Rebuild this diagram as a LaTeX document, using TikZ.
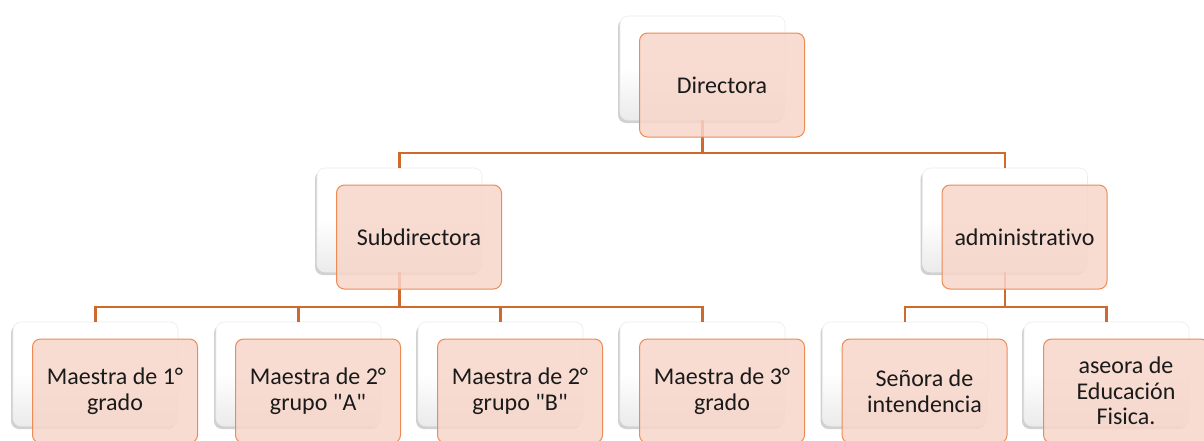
\documentclass[tikz,border=0pt]{standalone}
\usepackage{fontspec}
\setmainfont{Carlito}[Ligatures={TeXOff,NoCommon}]
\usetikzlibrary{shadows}
\definecolor{pinkfill}{RGB}{247,214,202}
\definecolor{pinkedge}{RGB}{236,140,84}
\definecolor{linkcol}{RGB}{208,106,44}
\definecolor{txtcol}{RGB}{26,26,26}
\tikzset{
  backbox/.style={rectangle, rounded corners=8pt, minimum width=165pt, minimum height=104pt,
    inner sep=0pt, draw=gray!15, line width=0.6pt, top color=white, bottom color=gray!16,
    middle color=white, shading angle=0,
    drop shadow={shadow xshift=-2pt, shadow yshift=-3pt, opacity=0.45, fill=gray!80}},
  frontbox/.style={rectangle, rounded corners=8pt, minimum width=165pt, minimum height=104pt,
    inner sep=2pt, draw=pinkedge, line width=1pt, fill=pinkfill, fill opacity=0.85,
    text opacity=1, text=txtcol, align=center,
    font=\fontsize{24}{25.5}\selectfont},
  link/.style={draw=linkcol, line width=2.2pt}
}
\begin{document}
\begin{tikzpicture}[x=1pt,y=-1pt]
\clip (0,0) rectangle (1204,440);
\fill[white] (0,0) rectangle (1204,440);
% back boxes
\node[backbox] (bd)  at (702.5,68) {};
\node[backbox] (bs)  at (399.5,220) {};
\node[backbox] (ba)  at (1005,220) {};
\node[backbox] (b1)  at (95.5,374) {};
\node[backbox] (b2)  at (298.5,374) {};
\node[backbox] (b3)  at (500.5,374) {};
\node[backbox] (b4)  at (702.5,374) {};
\node[backbox] (b5)  at (905,374) {};
\node[backbox] (b6)  at (1106.5,374) {};
% connectors
\coordinate (top) at (0,153);
\coordinate (mid) at (0,307);
\draw[link] (bd.south) -- (bd.south |- top) -| (bs.north);
\draw[link] (bd.south |- top) -| (ba.north);
\draw[link] (bs.south) -- (bs.south |- mid) -| (b1.north);
\draw[link] (bs.south |- mid) -| (b2.north);
\draw[link] (bs.south |- mid) -| (b3.north);
\draw[link] (b1.north |- mid) -| (b4.north);
\draw[link] (ba.south) -- (ba.south |- mid) -| (b5.north);
\draw[link] (b5.north |- mid) -| (b6.north);
% front boxes
\node[frontbox] (fd) at (722,85) {Directora};
\node[frontbox] (fs) at (419,237) {Subdirectora};
\node[frontbox] (fa) at (1024.5,237) {administrativo};
\node[frontbox] (f1) at (115,391) {Maestra de 1°\\grado};
\node[frontbox] (f2) at (318,391) {Maestra de 2°\\grupo "A"};
\node[frontbox] (f3) at (520,391) {Maestra de 2°\\grupo "B"};
\node[frontbox] (f4) at (722,391) {Maestra de 3°\\grado};
\node[frontbox] (f5) at (924.5,391) {Señora de\\intendencia};
\node[frontbox] (f6) at (1126,391) {aseora de\\Educación\\Fisica.};
\end{tikzpicture}
\end{document}
